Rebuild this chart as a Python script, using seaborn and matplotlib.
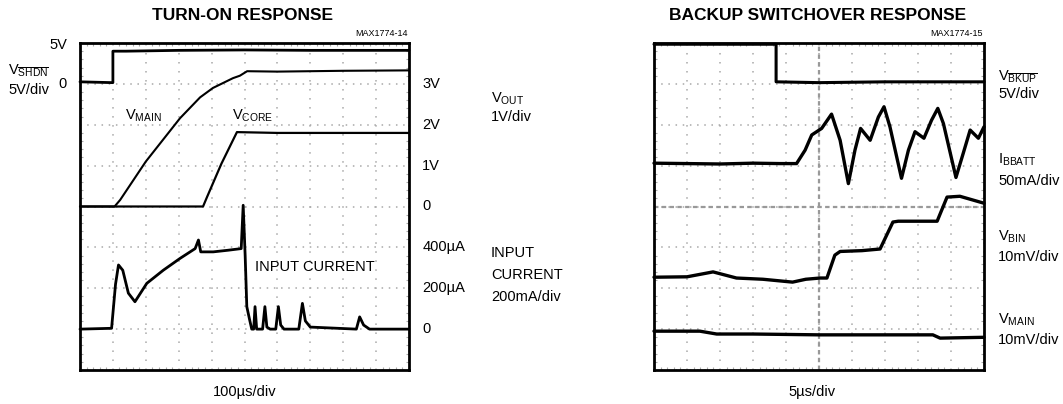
import matplotlib
matplotlib.use("Agg")
import pandas as pd
import matplotlib.pyplot as plt
import seaborn as sns

# ---- Turn-on response traces (x and y in scope divisions) ----
shdn_x = [0, 1.0, 1.0, 1.4, 3.0, 5.0, 7.0, 10]
shdn_y = [7.05, 7.03, 7.80, 7.80, 7.82, 7.83, 7.82, 7.82]

vmain_x = [0, 1.05, 1.22, 2.0, 3.04, 3.65, 4.04, 4.65, 4.86, 5.08, 6.0, 8.0, 10]
vmain_y = [4.0, 4.0, 4.16, 5.1, 6.16, 6.67, 6.9, 7.14, 7.2, 7.31, 7.3, 7.32, 7.33]

vcore_x = [0, 3.74, 3.86, 4.3, 4.77, 6.0, 8.0, 10]
vcore_y = [4.0, 4.0, 4.23, 5.05, 5.82, 5.8, 5.8, 5.8]

cur_x = [0, 0.96, 1.08, 1.17, 1.3, 1.47, 1.67, 2.03, 2.53, 3.04, 3.5, 3.6, 3.67,
         4.05, 4.5, 4.9, 4.96, 5.02, 5.07, 5.15, 5.22, 5.28, 5.32, 5.37, 5.45,
         5.55, 5.62, 5.68, 5.78, 5.95, 6.03, 6.1, 6.2, 6.65, 6.76, 6.85, 7.0,
         8.4, 8.5, 8.62, 8.8, 10]
cur_y = [1.0, 1.02, 2.1, 2.57, 2.44, 1.88, 1.67, 2.12, 2.44, 2.73, 2.97, 3.18, 2.89,
         2.89, 2.93, 2.97, 4.03, 2.8, 1.55, 1.25, 1.0, 1.0, 1.55, 1.0, 1.0,
         1.0, 1.55, 1.05, 1.0, 1.0, 1.55, 1.1, 1.0, 1.0, 1.63, 1.2, 1.05,
         1.0, 1.3, 1.1, 1.0, 1.0]

left_tick_pos = [7, 6, 5, 4, 3, 2, 1]
left_tick_labels = ["3V", "2V", "1V", "0", "400\u00b5A", "200\u00b5A", "0"]

# ---- Backup switchover traces ----
bkup_x = [0, 3.7, 3.7, 5.0, 7.0, 10]
bkup_y = [7.97, 7.97, 7.05, 7.03, 7.05, 7.05]

ibatt_x = [0, 1, 2, 3, 3.82, 4.32, 4.58, 4.78, 5.08, 5.38, 5.64, 5.89, 6.09, 6.26,
           6.55, 6.8, 6.97, 7.15, 7.5, 7.71, 7.91, 8.18, 8.41, 8.6, 8.77, 9.15,
           9.37, 9.58, 9.83, 10]
ibatt_y = [5.06, 5.05, 5.04, 5.06, 5.05, 5.05, 5.38, 5.75, 5.91, 6.26, 5.62, 4.56,
           5.38, 5.91, 5.62, 6.19, 6.44, 5.95, 4.69, 5.38, 5.83, 5.67, 6.11, 6.4,
           6.03, 4.71, 5.3, 5.87, 5.67, 5.95]

vbin_x = [0, 1.0, 1.79, 2.5, 3.3, 4.2, 4.6, 5.03, 5.24, 5.48, 5.64, 6.3, 6.85,
          7.24, 7.4, 8.58, 8.88, 9.27, 10]
vbin_y = [2.27, 2.28, 2.4, 2.25, 2.22, 2.15, 2.22, 2.25, 2.25, 2.81, 2.9, 2.92,
          2.96, 3.62, 3.64, 3.64, 4.23, 4.25, 4.08]

vmainr_x = [0, 1.39, 1.9, 3.0, 5.0, 7.0, 8.45, 8.67, 10]
vmainr_y = [0.95, 0.95, 0.88, 0.88, 0.86, 0.86, 0.86, 0.78, 0.8]

sns.set_style("white")
plt.rcParams['font.family'] = ['Liberation Sans', 'DejaVu Sans']
plt.rcParams['text.color'] = 'black'
plt.rcParams['mathtext.fontset'] = 'custom'
plt.rcParams['mathtext.rm'] = 'Liberation Sans'
plt.rcParams['mathtext.it'] = 'Liberation Sans'

W, H = 1063, 404
fig = plt.figure(figsize=(W / 100, H / 100), dpi=100)


def px(x, y):
    return x / W, 1 - y / H


def scope_axes(left, right):
    ax = fig.add_axes([left / W, 34 / H, (right - left) / W, 327 / H])
    ax.set_xlim(0, 10)
    ax.set_ylim(0, 8)
    ax.set_xticks(range(11))
    ax.set_yticks(range(9))
    ax.set_xticks([i * 0.2 for i in range(51)], minor=True)
    ax.set_yticks([i * 0.2 for i in range(41)], minor=True)
    ax.tick_params(which='both', labelbottom=False, labelleft=False,
                   direction='in', color='#aaaaaa')
    ax.tick_params(which='major', length=0)
    ax.tick_params(which='minor', length=2.5, width=0.8,
                   top=True, right=True, bottom=True, left=True)
    ax.xaxis.grid(True, color='#a8a8a8', lw=1.1, linestyle=(0, (1, 4.9)))
    ax.yaxis.grid(True, color='#a8a8a8', lw=1.1, linestyle=(0, (1, 3.7)))
    for s in ax.spines.values():
        s.set_visible(True)
        s.set_color('black')
        s.set_linewidth(2)
        s.set_zorder(5)
    return ax


def trace(ax, xs, ys, lw):
    df = pd.DataFrame({'x': xs, 'y': ys})
    sns.lineplot(data=df, x='x', y='y', ax=ax, color='black', lw=lw,
                 sort=False, estimator=None, clip_on=False)
    ax.set_xlabel('')
    ax.set_ylabel('')


fs = 10.5
tfs = 12.5

# ---------------- Left panel ----------------
axl = scope_axes(80, 409)
trace(axl, shdn_x, shdn_y, 2.0)
trace(axl, vmain_x, vmain_y, 1.5)
trace(axl, vcore_x, vcore_y, 1.6)
trace(axl, cur_x, cur_y, 2.0)

axl.text(1.37, 6.23, r'V$_{\mathrm{MAIN}}$', fontsize=fs, va='center', ha='left')
axl.text(4.62, 6.23, r'V$_{\mathrm{CORE}}$', fontsize=fs, va='center', ha='left')
axl.text(5.32, 2.52, 'INPUT CURRENT', fontsize=fs, va='center', ha='left')

ty = axl.get_yaxis_transform()
for p, lab in zip(left_tick_pos, left_tick_labels):
    axl.text(1.04, p, lab, transform=ty, fontsize=fs, va='center', ha='left')
axl.text(-0.04, 7.95, '5V', transform=ty, fontsize=fs, va='center', ha='right')
axl.text(-0.04, 7.0, '0', transform=ty, fontsize=fs, va='center', ha='right')

fig.text(*px(8, 71), r'V$_{\overline{\mathrm{SHDN}}}$', fontsize=fs, va='center', ha='left')
fig.text(*px(8, 90), '5V/div', fontsize=fs, va='center', ha='left')
fig.text(*px(491, 99), r'V$_{\mathrm{OUT}}$', fontsize=fs, va='center', ha='left')
fig.text(*px(491, 117), '1V/div', fontsize=fs, va='center', ha='left')
fig.text(*px(491, 253), 'INPUT', fontsize=fs, va='center', ha='left')
fig.text(*px(491, 275), 'CURRENT', fontsize=fs, va='center', ha='left')
fig.text(*px(491, 297), '200mA/div', fontsize=fs, va='center', ha='left')

fig.text(*px(243, 15), 'TURN-ON RESPONSE', fontsize=tfs, fontweight='bold',
         va='center', ha='center')
fig.text(*px(408, 34), 'MAX1774-14', fontsize=6.5, va='center', ha='right')
fig.text(*px(245, 392), '100\u00b5s/div', fontsize=fs, va='center', ha='center')

# ---------------- Right panel ----------------
axr = scope_axes(654, 984)
axr.axvline(5, color='#999999', lw=1.6, linestyle=(0, (2, 1.5)), zorder=1)
axr.axhline(4, color='#999999', lw=1.6, linestyle=(0, (2, 1.5)), zorder=1)
trace(axr, bkup_x, bkup_y, 2.2)
trace(axr, ibatt_x, ibatt_y, 2.4)
trace(axr, vbin_x, vbin_y, 2.4)
trace(axr, vmainr_x, vmainr_y, 2.4)

fig.text(*px(998, 77), r'V$_{\overline{\mathrm{BKUP}}}$', fontsize=fs, va='center', ha='left')
fig.text(*px(998, 94), '5V/div', fontsize=fs, va='center', ha='left')
fig.text(*px(998, 160), r'I$_{\mathrm{BBATT}}$', fontsize=fs, va='center', ha='left')
fig.text(*px(998, 181), '50mA/div', fontsize=fs, va='center', ha='left')
fig.text(*px(998, 237), r'V$_{\mathrm{BIN}}$', fontsize=fs, va='center', ha='left')
fig.text(*px(998, 257), '10mV/div', fontsize=fs, va='center', ha='left')
fig.text(*px(998, 320), r'V$_{\mathrm{MAIN}}$', fontsize=fs, va='center', ha='left')
fig.text(*px(998, 340), '10mV/div', fontsize=fs, va='center', ha='left')

fig.text(*px(818, 15), 'BACKUP SWITCHOVER RESPONSE', fontsize=tfs, fontweight='bold',
         va='center', ha='center')
fig.text(*px(983, 34), 'MAX1774-15', fontsize=6.5, va='center', ha='right')
fig.text(*px(812, 392), '5\u00b5s/div', fontsize=fs, va='center', ha='center')

fig.savefig('out.png', dpi=100)
